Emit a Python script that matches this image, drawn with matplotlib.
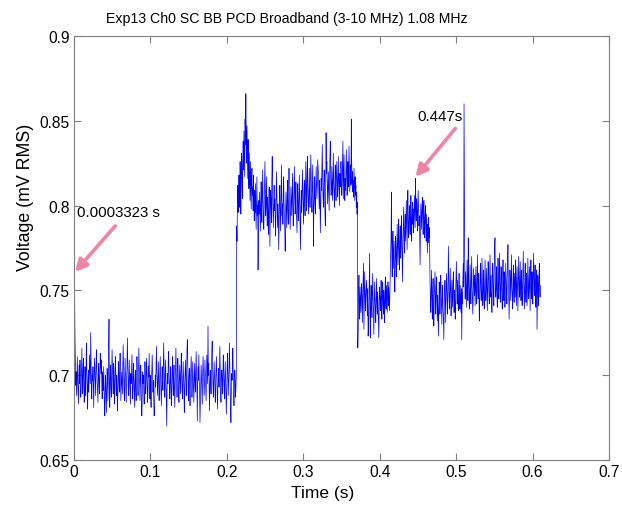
import numpy as np
import matplotlib
matplotlib.use("Agg")
import matplotlib.pyplot as plt
import matplotlib.patheffects as pe

plt.rcParams["font.family"] = ["Liberation Sans", "DejaVu Sans"]

# Sampling of the broadband PCD RMS trace
start_time_s = 0.0003323
sample_interval_s = 0.0005

# RMS voltage in microvolts, one value per sample, split by exposure phase
baseline_uv = [
    760, 745, 721, 709,
    694, 702, 688, 699, 711, 697, 690, 683, 701, 706, 695, 709, 700, 687, 692, 704, 716, 698, 689, 703,
    710, 696, 684, 691, 705, 699, 688, 707, 719, 701, 693, 680, 696, 703, 690, 698, 712, 704, 695, 725,
    708, 691, 686, 700, 697, 705, 693, 681, 699, 710, 702, 694, 688, 706, 715, 703, 697, 690, 684, 699,
    707, 696, 689, 701, 713, 708, 701, 709, 695, 686, 702, 698, 691, 705, 694, 682, 676, 693, 700, 688,
    678, 691, 704, 697, 685, 695, 718, 733, 690, 681, 698, 706, 693, 687, 700, 715, 703, 694, 689, 707,
    699, 683, 692, 705, 711, 697, 688, 700, 694, 679, 687, 701, 708, 696, 690, 704, 713, 699, 685, 693,
    702, 696, 689, 706, 718, 704, 693, 685, 699, 710, 701, 692, 684, 697, 705, 722, 707, 695, 688, 700,
    709, 697, 690, 683, 701, 695, 704, 712, 698, 686, 694, 707, 700, 689, 681, 696, 703, 691, 685, 699,
    711, 704, 693, 688, 697, 716, 705, 692, 685, 699, 706, 694, 677, 676, 688, 702, 695, 700, 690, 683,
    698, 708, 701, 689, 694, 710, 703, 696, 684, 691, 705, 699, 713, 697, 686, 700, 692, 681, 695, 704,
    712, 702, 690, 697, 684, 676, 680, 689, 700, 693, 706, 717, 703, 695, 688, 699, 708, 696, 685, 692,
    703, 711, 697, 689, 682, 696, 705, 699, 691, 704, 719, 707, 694, 687, 700, 709, 698, 683, 670, 693,
    701, 695, 708, 714, 700, 691, 686, 698, 705, 693, 682, 690, 703, 711, 696, 688, 699, 706, 694, 681,
    692, 704, 716, 701, 695, 687, 699, 710, 702, 690, 684, 698, 706, 697, 689, 701, 713, 704, 692, 686,
    697, 708, 700, 691, 678, 694, 702, 709, 696, 688, 701, 715, 721, 705, 693, 685, 699, 704, 690, 682,
    696, 703, 711, 699, 687, 694, 708, 700, 692, 684, 698, 707, 696, 690, 703, 714, 701, 693, 673, 697,
    705, 697, 712, 698, 689, 672, 684, 696, 706, 699, 690, 683, 700, 711, 703, 694, 688, 697, 709, 701,
    693, 685, 699, 712, 704, 695, 729, 700, 707, 691, 679, 694, 703, 697, 689, 702, 715, 720, 706, 694,
    687, 699, 708, 701, 692, 684, 697, 705, 711, 698, 689, 680, 695, 704, 700, 693, 706, 717, 702, 690,
    684, 696, 703, 698, 689, 701, 712, 704, 693, 686, 699, 708, 697, 685, 677, 693, 705, 713, 699, 688,
    695, 704, 719, 706, 694, 683, 672, 690, 701, 697, 704, 716, 700, 689, 682, 694, 703, 698, 687, 692,
    701,
]

high_step_uv = [
    788, 779, 801, 812, 796, 805, 818, 799, 809, 826, 813, 795, 820, 831, 815, 804, 827, 838, 821, 844,
    829, 817, 851, 836, 866, 842, 825, 847, 833, 816, 839, 822, 810, 831, 817, 803, 826, 812, 798, 815,
    822, 806, 811, 797, 818, 802, 791, 809, 796, 813, 800, 786, 804, 817, 794, 800, 762, 789, 803, 795,
    808, 797, 785, 802, 814, 799, 790, 806, 821, 803, 793, 786, 799, 812, 826, 807, 794, 801, 817, 798,
    788, 805, 796, 783, 800, 811, 792, 776, 797, 809, 801, 790, 815, 829, 806, 795, 787, 802, 812, 797,
    804, 791, 782, 798, 820, 808, 795, 787, 801, 793, 774, 790, 803, 812, 799, 785, 797, 824, 809, 794,
    801, 789, 806, 817, 800, 792, 785, 773, 796, 808, 798, 787, 804, 815, 797, 789, 810, 822, 805, 794,
    786, 799, 811, 803, 794, 808, 819, 800, 788, 797, 812, 823, 806, 795, 801, 814, 798, 790, 784, 803,
    813, 797, 791, 806, 818, 804, 793, 774, 799, 809, 796, 805, 821, 810, 798, 789, 806, 815, 801, 794,
    812, 826, 808, 797, 816, 829, 811, 803, 795, 809, 822, 807, 799, 814, 830, 817, 805, 796, 811, 824,
    809, 776, 798, 806, 817, 801, 795, 810, 823, 813, 804, 812, 827, 823, 819, 807, 798, 815, 806, 784,
    802, 816, 809, 823, 836, 817, 805, 799, 812, 821, 808, 796, 788, 811, 843, 819, 826, 814, 801, 812,
    820, 809, 797, 815, 828, 838, 816, 806, 811, 823, 814, 803, 818, 831, 812, 807, 799, 816, 824, 810,
    803, 817, 826, 814, 805, 812, 829, 815, 808, 800, 819, 811, 823, 826, 821, 806, 813, 827, 838, 804,
    818, 830, 812, 803, 816, 809, 822, 833, 817, 806, 814, 826, 811, 819, 835, 822, 808, 816, 824, 812,
    851, 826, 813, 820, 808, 815, 805, 822, 811, 803, 817, 806, 812, 799, 808, 795, 802,
]

dip_uv = [
    716, 729, 748, 759, 741, 733, 752, 745, 737, 748, 754, 742, 731, 748, 756, 766, 727, 744, 761, 750,
    738, 747, 751, 756, 743, 735, 751, 723, 729, 740, 758, 772, 736, 722, 745, 753, 741, 734, 749, 760,
    746, 737, 724, 742, 755, 748, 739, 731, 745, 757, 743, 736, 749, 741, 730, 722, 744, 752, 747, 738,
    745, 756, 741, 733, 748, 755, 742, 736, 750, 743, 731, 747, 758, 744, 739, 753, 746, 737, 749, 755,
    741, 752, 745, 738, 750,
]

ramp_uv = [
    764, 772, 781, 808, 769, 758, 776, 785, 763, 771, 779, 760, 749, 766, 782, 774, 758, 770, 789, 777,
    765, 783, 792, 771, 762, 780, 788, 769, 776, 794, 783, 767, 755, 778, 790, 799, 781, 772, 786, 795,
    779, 790, 803, 787, 774, 796, 809, 792, 781, 788, 800, 794, 783, 797, 806, 790, 779, 795, 802, 789,
    798, 784, 793, 806, 795, 787, 816, 799, 791, 804, 796, 785, 800, 809, 797, 788, 794, 778, 765, 790,
    801, 793, 786, 799, 805, 792, 783, 797, 803, 790, 781, 794, 800, 787, 779, 795, 784, 772, 789, 778,
    793, 781, 787, 776,
]

tail_uv = [
    756, 744, 737, 751, 762, 745, 733, 748, 757, 740, 729, 746, 754, 761, 743, 736, 750, 758, 744, 732,
    747, 738, 723, 741, 755, 749, 736, 744, 759, 751, 739, 730, 745, 753, 740, 734, 721, 737, 749, 756,
    742, 731, 748, 760, 753, 744, 736, 751, 776, 758, 745, 739, 752, 763, 747, 735, 742, 756, 748, 740,
    754, 761, 746, 737, 750, 743, 733, 749, 758, 767, 751, 742, 756, 744, 738, 752, 760, 747, 739, 753,
    745, 737, 751, 721, 749, 742, 758, 766, 752, 860, 803, 757, 745, 761, 749, 740, 756, 768, 753, 744,
    781, 758, 746, 739, 753, 765, 749, 742, 757, 770, 752, 744, 736, 750, 763, 755, 747, 759, 741, 752,
    764, 749, 742, 757, 771, 754, 745, 760, 748, 732, 743, 758, 766, 751, 744, 756, 769, 753, 741, 750,
    762, 746, 739, 755, 768, 757, 744, 751, 763, 749, 738, 754, 767, 760, 748, 742, 757, 771, 754, 746,
    759, 744, 737, 752, 766, 758, 747, 741, 763, 775, 781, 756, 746, 752, 764, 748, 740, 757, 769, 753,
    745, 760, 772, 755, 743, 750, 764, 757, 746, 739, 756, 768, 751, 744, 761, 753, 740, 748, 766, 759,
    750, 742, 757, 770, 777, 754, 745, 733, 749, 762, 756, 744, 758, 771, 752, 747, 739, 755, 765, 750,
    743, 760, 753, 746, 768, 757, 741, 752, 764, 749, 738, 756, 770, 759, 746, 753, 767, 751, 744, 762,
    755, 741, 749, 763, 773, 756, 747, 739, 758, 766, 750, 743, 760, 754, 741, 752, 769, 758, 745, 751,
    764, 750, 738, 756, 768, 753, 745, 761, 749, 742, 757, 772, 759, 747, 753, 765, 748, 740, 756, 762,
    727, 745, 759, 752, 741, 757, 766, 750, 746, 753,
]

x_ticks = [0, 0.1, 0.2, 0.3, 0.4, 0.5, 0.6, 0.7]
x_tick_labels = ["0", "0.1", "0.2", "0.3", "0.4", "0.5", "0.6", "0.7"]
y_ticks = [0.65, 0.7, 0.75, 0.8, 0.85, 0.9]
y_tick_labels = ["0.65", "0.7", "0.75", "0.8", "0.85", "0.9"]

voltage_mv = np.array(baseline_uv + high_step_uv + dip_uv + ramp_uv + tail_uv) / 1000.0
time_s = start_time_s + sample_interval_s * np.arange(len(voltage_mv))

fig = plt.figure(figsize=(6.22, 5.06), dpi=100)
ax = fig.add_axes([74 / 622, 1 - 461 / 506, (609 - 74) / 622, (461 - 37) / 506])

ax.plot(time_s, voltage_mv, color="#0000ff", linewidth=0.5)

ax.set_xlim(0, 0.7)
ax.set_ylim(0.65, 0.9)
ax.set_xticks(x_ticks)
ax.set_xticklabels(x_tick_labels)
ax.set_yticks(y_ticks)
ax.set_yticklabels(y_tick_labels)
ax.tick_params(direction="in", length=5, width=0.8, color="#7f7f7f",
               top=True, right=True, labelsize=11.2, pad=3)
for spine in ax.spines.values():
    spine.set_color("#7f7f7f")
    spine.set_linewidth(0.8)

fig.text(287 / 622, 1 - 19 / 506, "Exp13 Ch0 SC BB PCD Broadband (3-10 MHz) 1.08 MHz",
         fontsize=10.2, ha="center", va="center")
ax.set_xlabel("Time (s)", fontsize=12.5, labelpad=4)
ax.xaxis.label.set_x((323 - 74) / (609 - 74))
ax.set_ylabel("Voltage (mV RMS)", fontsize=12.8, labelpad=4)
ax.yaxis.label.set_y((461 - 197) / (461 - 37))

arrow_style = dict(arrowstyle="-|>,head_length=0.7,head_width=0.35", color="#ef85a4",
                   linewidth=2.6, shrinkA=0, shrinkB=0)
arrow_shadow = [pe.SimplePatchShadow(offset=(1.5, -1.5), shadow_rgbFace="#999999", alpha=0.35),
                pe.Normal()]

# First sample of the trace
first = ax.annotate("", xy=(time_s[0] + 0.001, voltage_mv[0] + 0.001), xytext=(0.054, 0.788),
                    arrowprops=arrow_style)
first.arrow_patch.set_path_effects(arrow_shadow)
ax.text(0.004, 0.7965, f"{time_s[0]:.7f} s", fontsize=10.8, ha="left", va="center")

# Peak of the ramp phase
ramp_start = len(baseline_uv) + len(high_step_uv) + len(dip_uv)
peak_idx = ramp_start + int(np.argmax(ramp_uv))
peak = ax.annotate("", xy=(time_s[peak_idx], voltage_mv[peak_idx] + 0.001), xytext=(0.499, 0.8455),
                   arrowprops=arrow_style)
peak.arrow_patch.set_path_effects(arrow_shadow)
ax.text(0.449, 0.853, f"{time_s[peak_idx]:.3f}s", fontsize=10.8, ha="left", va="center")

fig.savefig("out.png", dpi=100, facecolor="white")
